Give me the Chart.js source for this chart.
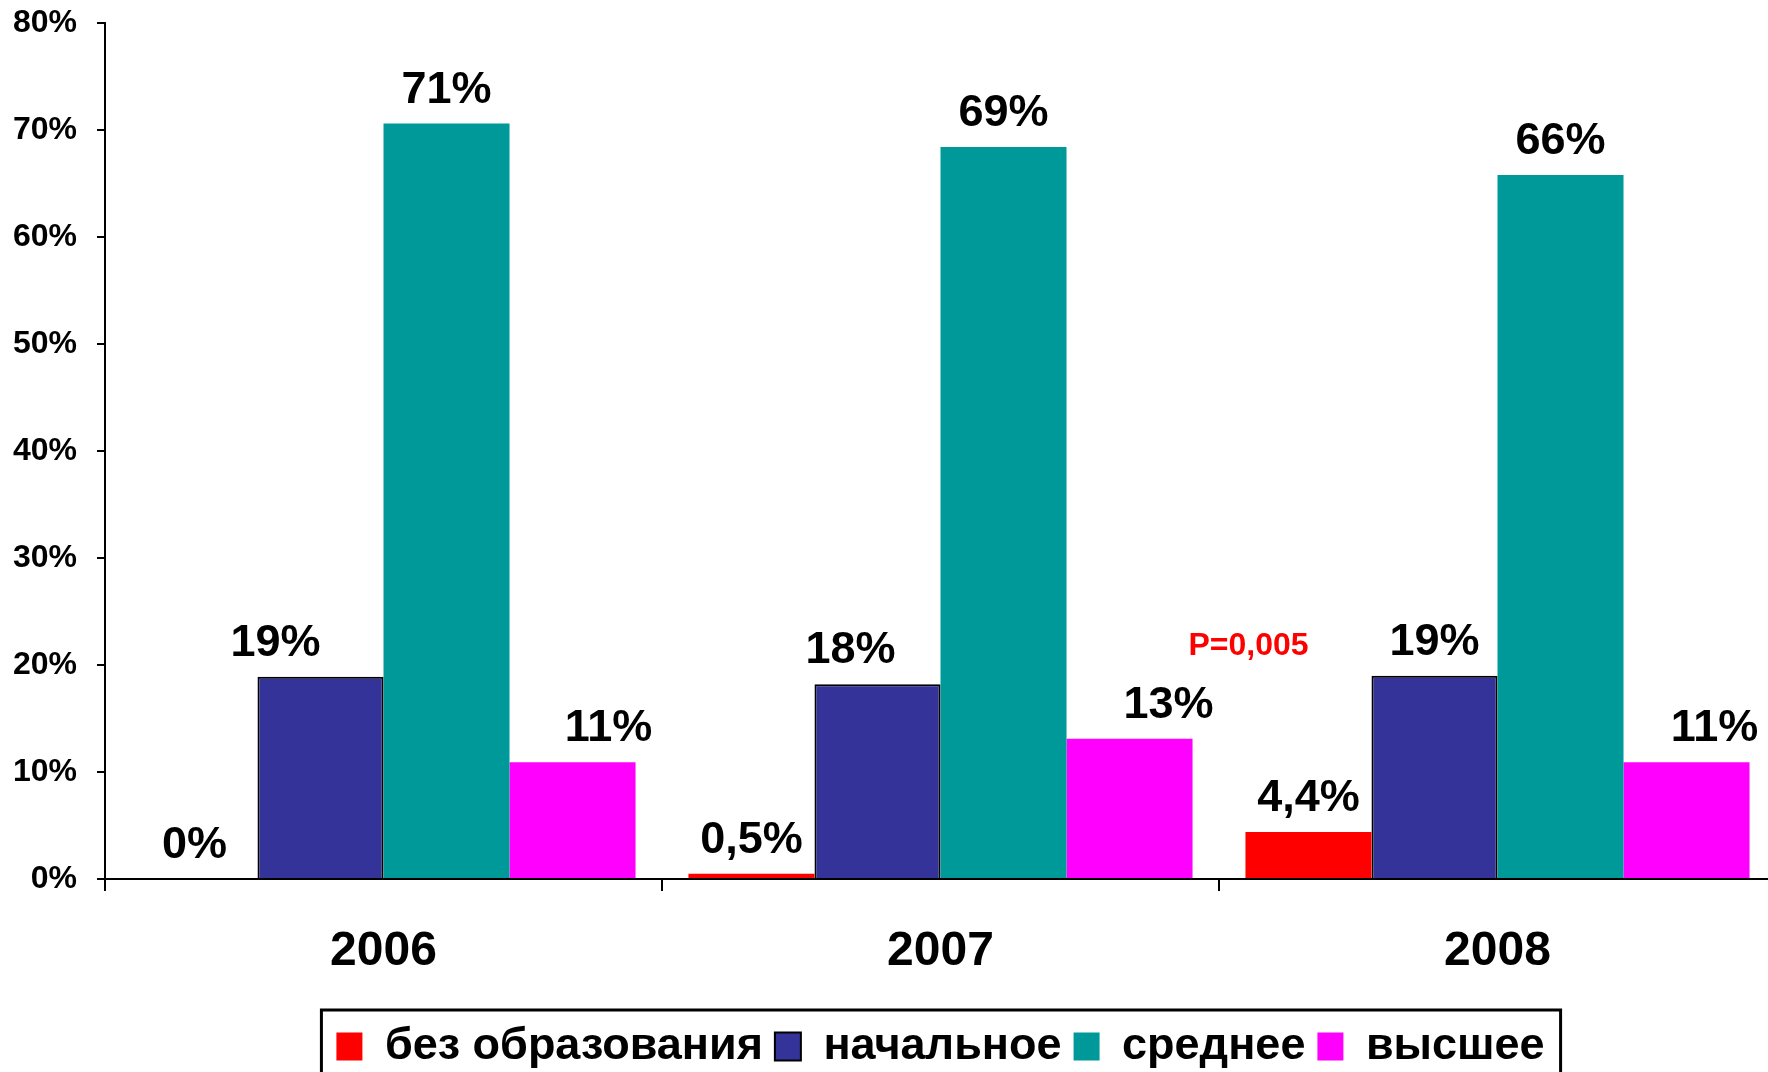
<!DOCTYPE html>
<html>
<head>
<meta charset="utf-8">
<script src="https://cdn.jsdelivr.net/npm/chart.js@4/dist/chart.umd.min.js"></script>
<style>
html,body{margin:0;padding:0;background:#fff;overflow:hidden;width:1768px;height:1072px;}
canvas{display:block;}
</style>
</head>
<body>
<canvas id="c" width="1776" height="1079"></canvas>
<script>
const categories = ['2006', '2007', '2008'];
const seriesNames = ['без образования', 'начальное', 'среднее', 'высшее'];
const noEducation = [0, 0.5, 4.4];
const primary = [18.9, 18.2, 19.0];
const secondary = [70.6, 68.4, 65.8];
const higher = [10.9, 13.1, 10.9];
const noEducationLabels = ['0%', '0,5%', '4,4%'];
const primaryLabels = ['19%', '18%', '19%'];
const secondaryLabels = ['71%', '69%', '66%'];
const higherLabels = ['11%', '13%', '11%'];
const yTickValues = [0, 10, 20, 30, 40, 50, 60, 70, 80];
const pValueText = 'P=0,005';

const FONT = "'Liberation Sans', Arial, sans-serif";
const valueLabels = [noEducationLabels, primaryLabels, secondaryLabels, higherLabels];
// horizontal nudges for the value labels (per dataset, per category), in px
const labelNudge = [[0, 0, 0], [-45, -27, 0], [0, 0, 0], [36, 39, 28]];

const valueLabelPlugin = {
  id: 'valueLabels',
  afterDatasetsDraw(chart) {
    const ctx = chart.ctx;
    ctx.save();
    ctx.font = 'bold 45px ' + FONT;
    ctx.fillStyle = '#000';
    ctx.textAlign = 'center';
    ctx.textBaseline = 'alphabetic';
    chart.data.datasets.forEach((ds, di) => {
      const meta = chart.getDatasetMeta(di);
      meta.data.forEach((bar, i) => {
        ctx.fillText(valueLabels[di][i], bar.x + labelNudge[di][i], bar.y - 21);
      });
    });
    // p-value annotation
    const ref = chart.getDatasetMeta(0).data[2];
    const y = chart.scales.y.getPixelForValue(21.8);
    ctx.font = 'bold 32px ' + FONT;
    ctx.fillStyle = '#ff0000';
    ctx.textBaseline = 'middle';
    ctx.fillText(pValueText, ref.x - 60, y);
    ctx.restore();
  }
};

const legendBoxPlugin = {
  id: 'legendBox',
  afterDraw(chart) {
    const lg = chart.legend;
    if (!lg || !lg.legendHitBoxes || !lg.legendHitBoxes.length) return;
    const hb = lg.legendHitBoxes;
    const left = hb[0].left - 15;
    const right = hb[hb.length - 1].left + hb[hb.length - 1].width + 16;
    const top = hb[0].top - 14;
    const ctx = chart.ctx;
    ctx.save();
    ctx.strokeStyle = '#000';
    ctx.lineWidth = 3;
    ctx.strokeRect(left, top, right - left, chart.height + 20 - top);
    ctx.restore();
  }
};

new Chart(document.getElementById('c'), {
  type: 'bar',
  data: {
    labels: categories,
    datasets: [
      { label: seriesNames[0], data: noEducation, backgroundColor: '#ff0000', borderWidth: 0 },
      { label: seriesNames[1], data: primary, backgroundColor: '#333399', borderColor: '#000000', borderWidth: 2 },
      { label: seriesNames[2], data: secondary, backgroundColor: '#009999', borderWidth: 0 },
      { label: seriesNames[3], data: higher, backgroundColor: '#ff00ff', borderWidth: 0 }
    ]
  },
  options: {
    responsive: false,
    devicePixelRatio: 1,
    animation: false,
    categoryPercentage: 0.905,
    barPercentage: 1.0,
    layout: { padding: { top: 23, left: 0, right: 0, bottom: 0 } },
    plugins: {
      tooltip: { enabled: false },
      legend: {
        position: 'bottom',
        fullSize: false,
        labels: {
          font: { family: FONT, size: 45, weight: 'bold' },
          color: '#000',
          boxWidth: 26,
          boxHeight: 28,
          padding: 12
        }
      }
    },
    scales: {
      x: {
        grid: { display: true, drawOnChartArea: false, drawTicks: true, tickLength: 12, color: '#000', lineWidth: 2, offset: true },
        border: { display: true, color: '#000', width: 2 },
        ticks: { font: { family: FONT, size: 48, weight: 'bold' }, color: '#000', padding: 32 },
        afterFit(scale) { scale.height = 133; scale.paddingLeft = 0; scale.paddingRight = 0; }
      },
      y: {
        min: 0,
        max: 80,
        afterBuildTicks(scale) { scale.ticks = yTickValues.map(v => ({ value: v })); },
        grid: { display: true, drawOnChartArea: false, drawTicks: true, tickLength: 8, color: '#000', lineWidth: 2 },
        border: { display: true, color: '#000', width: 2 },
        ticks: { font: { family: FONT, size: 32, weight: 'bold' }, color: '#000', padding: 20, callback: v => v + '%' },
        afterFit(scale) { scale.width = 105; scale.paddingTop = 0; scale.paddingBottom = 0; }
      }
    }
  },
  plugins: [valueLabelPlugin, legendBoxPlugin]
});
</script>
</body>
</html>
